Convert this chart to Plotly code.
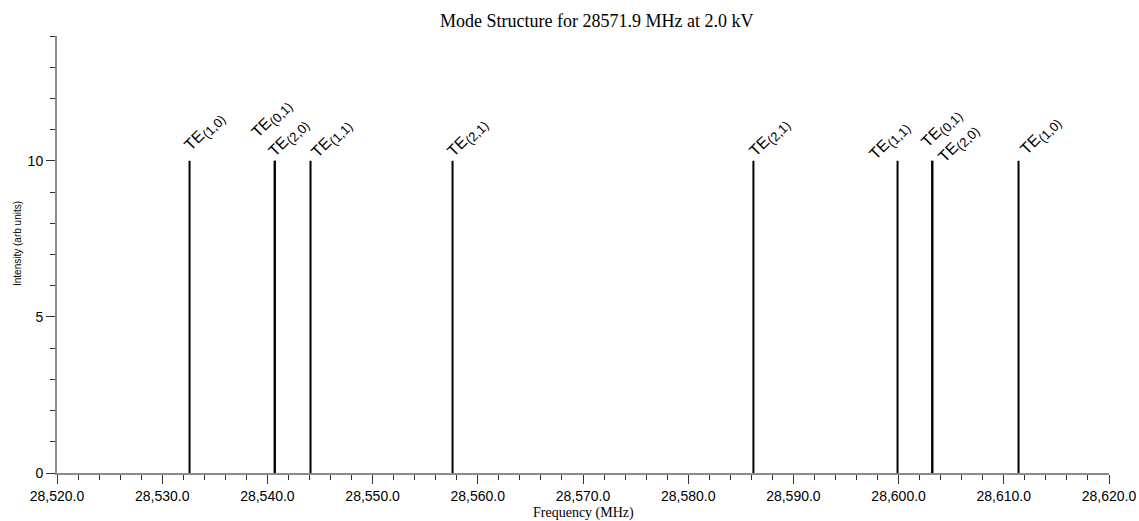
import plotly.graph_objects as go

# Resonant modes: frequency (MHz), relative intensity and mode label
mode_freqs = [28532.6, 28540.7, 28540.7, 28544.1, 28557.6,
              28586.2, 28599.9, 28603.2, 28603.2, 28611.4]
mode_intensity = [10, 10, 10, 10, 10, 10, 10, 10, 10, 10]
mode_names = ["TE(1,0)", "TE(0,1)", "TE(2,0)", "TE(1,1)", "TE(2,1)",
              "TE(2,1)", "TE(1,1)", "TE(0,1)", "TE(2,0)", "TE(1,0)"]

# Label placement (pixel offset of each label's centre from its line top)
label_dx = [15, -3, 14, 21, 15, 16, -8, 9, 26, 22]
label_dy = [29, 42, 23, 22, 23, 23, 20, 32, 17, 25]

x_range = [28520, 28620]
y_range = [0, 14]

# Stems from zero up to each mode intensity
sx, sy = [], []
for f, a in zip(mode_freqs, mode_intensity):
    sx += [f, f, None]
    sy += [0, a, None]

fig = go.Figure()
fig.add_trace(go.Scatter(x=sx, y=sy, mode="lines",
                         line=dict(color="black", width=2),
                         hoverinfo="skip", showlegend=False))


def fmt(name):
    base, sub = name.split("(", 1)
    return f"{base}<sub><span style='font-size:13px'>({sub}</span></sub>"


for f, a, n, dx, dy in zip(mode_freqs, mode_intensity, mode_names, label_dx, label_dy):
    fig.add_annotation(x=f, y=a, text=fmt(n), showarrow=False,
                       textangle=-45, xanchor="center", yanchor="middle",
                       xshift=dx, yshift=dy,
                       font=dict(family="Liberation Sans", size=16, color="black"))

# Axis titles
fig.add_annotation(text="Frequency (MHz)", xref="paper", yref="paper",
                   x=0.5, y=0, xanchor="center", yanchor="top", yshift=-30,
                   showarrow=False,
                   font=dict(family="Liberation Serif", size=14, color="black"))
fig.add_annotation(text="Intensity (arb units)", xref="paper", yref="paper",
                   x=0, y=0.524, xanchor="center", yanchor="middle", xshift=-40,
                   textangle=-90, showarrow=False,
                   font=dict(family="Liberation Sans", size=10, color="black"))

axis_common = dict(showgrid=False, zeroline=False, showline=True, automargin=False,
                   linecolor="#8a8a8a", linewidth=2,
                   ticks="outside", ticklen=9, tickwidth=1, tickcolor="#333333",
                   tickfont=dict(family="Liberation Sans", size=14, color="black"))

fig.update_xaxes(range=x_range, dtick=10, tick0=28520, tickformat=",.1f",
                 minor=dict(dtick=2, ticks="outside", ticklen=5, tickcolor="#333333"),
                 **axis_common)
fig.update_yaxes(range=y_range, dtick=5, tick0=0,
                 minor=dict(dtick=1, ticks="outside", ticklen=5, tickcolor="#333333"),
                 **axis_common)

fig.update_layout(
    template="none",
    width=1139, height=521,
    margin=dict(l=57, r=30, t=36, b=48),
    paper_bgcolor="white", plot_bgcolor="white",
    title=dict(text="Mode Structure for 28571.9 MHz at 2.0 kV",
               x=0.513, xref="paper", xanchor="center", y=0.96, yanchor="middle",
               font=dict(family="Liberation Serif", size=18, color="black")),
)

fig.write_html("out.html")
